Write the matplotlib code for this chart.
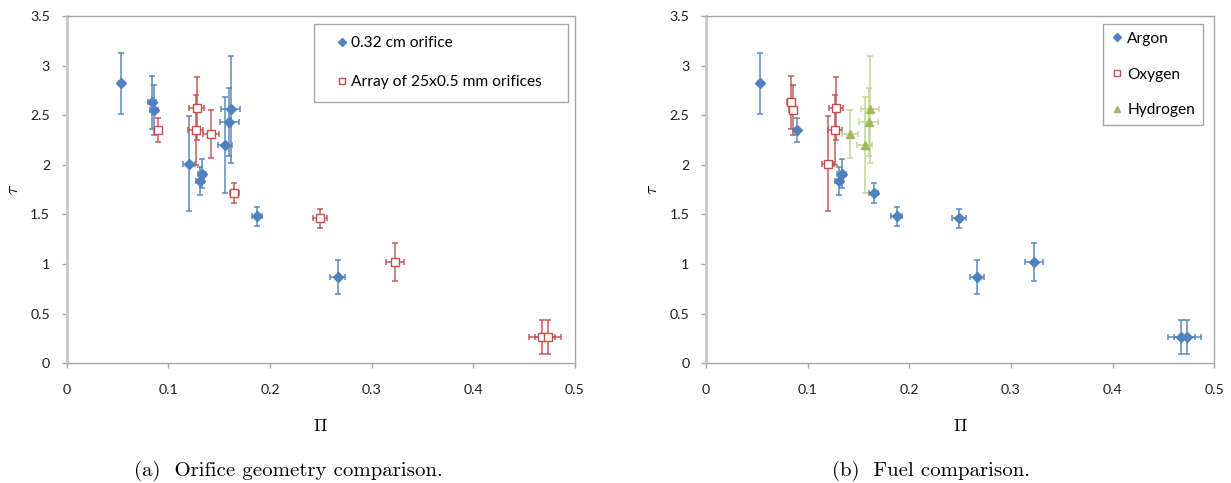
import matplotlib.pyplot as plt
from matplotlib.lines import Line2D

plt.rcParams['mathtext.fontset'] = 'cm'

# one entry per experiment: Pi, tau, error bars, orifice geometry and fuel
pi_vals = [0.053, 0.084, 0.086, 0.120, 0.131, 0.1334, 0.156, 0.160, 0.1612, 0.1875, 0.2665,
           0.090, 0.1278, 0.1268, 0.1419, 0.165, 0.249, 0.3228, 0.4677, 0.4736]
tau_vals = [2.82, 2.63, 2.55, 2.01, 1.84, 1.91, 2.20, 2.43, 2.56, 1.48, 0.87,
            2.35, 2.57, 2.35, 2.31, 1.72, 1.46, 1.02, 0.265, 0.265]
pi_err = [0.002, 0.004, 0.004, 0.006, 0.004, 0.004, 0.007, 0.0095, 0.009, 0.005, 0.007,
          0.002, 0.007, 0.007, 0.008, 0.0045, 0.007, 0.009, 0.013, 0.013]
tau_err = [0.31, 0.27, 0.25, 0.48, 0.14, 0.145, 0.48, 0.34, 0.54, 0.094, 0.17,
           0.12, 0.315, 0.35, 0.24, 0.10, 0.095, 0.19, 0.175, 0.175]
geometry = ['cm'] * 11 + ['array'] * 9
fuel = ['Ar', 'O2', 'O2', 'O2', 'Ar', 'Ar', 'H2', 'H2', 'H2', 'Ar', 'Ar',
        'Ar', 'O2', 'O2', 'H2', 'Ar', 'Ar', 'Ar', 'Ar', 'Ar']

blue, red, green = '#4F81BD', '#C0504D', '#9BBB59'

geom_series = [
    ('cm', '0.32 cm orifice', 'D', blue, True, 5.5),
    ('array', 'Array of 25x0.5 mm orifices', 's', red, False, 5.5),
]
fuel_series = [
    ('Ar', 'Argon', 'D', blue, True, 5.5),
    ('O2', 'Oxygen', 's', red, False, 5.5),
    ('H2', 'Hydrogen', '^', green, True, 6),
]

fig = plt.figure(figsize=(12.31, 4.83), dpi=100)
ax1 = fig.add_axes([0.0542, 0.2478, 0.4128, 0.7191])
ax2 = fig.add_axes([0.5735, 0.2478, 0.4128, 0.7191])


def draw(ax, key, series, legend_kw):
    handles = []
    for k, label, mk, col, filled, ms in series:
        idx = [i for i in range(len(pi_vals)) if key[i] == k]
        x = [pi_vals[i] for i in idx]
        y = [tau_vals[i] for i in idx]
        xe = [pi_err[i] for i in idx]
        ye = [tau_err[i] for i in idx]
        ebar_col = col if k != 'H2' else '#BCD48E'
        ax.errorbar(x, y, xerr=xe, yerr=ye, fmt='none', ecolor=ebar_col,
                    elinewidth=1.2, capsize=2.0, capthick=1.2, alpha=0.85, zorder=2)
        ax.plot(x, y, linestyle='none', marker=mk, markersize=ms,
                markerfacecolor=col if filled else 'white',
                markeredgecolor=col, markeredgewidth=1.0, zorder=3)
        handles.append(Line2D([], [], linestyle='none', marker=mk, markersize=4.5,
                              markerfacecolor=col if filled else 'white',
                              markeredgecolor=col, label=label))
    ax.set_xlim(0, 0.5)
    ax.set_ylim(0, 3.5)
    ax.set_xticks([0, 0.1, 0.2, 0.3, 0.4, 0.5])
    ax.set_xticklabels(['0', '0.1', '0.2', '0.3', '0.4', '0.5'])
    ax.set_yticks([0, 0.5, 1, 1.5, 2, 2.5, 3, 3.5])
    ax.set_yticklabels(['0', '0.5', '1', '1.5', '2', '2.5', '3', '3.5'])
    ax.tick_params(direction='out', length=3.6, width=1, color='#A6A6A6',
                   labelsize=10.2, labelcolor='#202020')
    ax.tick_params(axis='y', pad=8.4)
    ax.tick_params(axis='x', pad=11.5)
    for lab in ax.get_xticklabels() + ax.get_yticklabels():
        lab.set_family('Lato')
    for sp in ax.spines.values():
        sp.set_color('#A6A6A6')
        sp.set_linewidth(1)
    ax.spines['left'].set_color('#C8C8C8')
    ax.spines['left'].set_linewidth(2)
    ax.set_xlabel(r'$\Pi$', fontsize=13)
    ax.xaxis.set_label_coords(0.5, -0.155)
    ax.set_ylabel(r'$\tau$', fontsize=13, va='center')
    ax.yaxis.set_label_coords(-0.106, 0.5)
    leg = ax.legend(handles=handles, fancybox=False, framealpha=1, borderaxespad=0,
                    edgecolor='#A6A6A6', prop={'family': 'Lato', 'size': 11.2},
                    **legend_kw)
    leg.get_frame().set_linewidth(1)


draw(ax1, geometry, geom_series,
     dict(loc='upper left', bbox_to_anchor=(0.4865, 0.5, 0.4997, 0.477), mode='expand',
          handlelength=1.95, handletextpad=-0.38, labelspacing=1.6, borderpad=0.8))
draw(ax2, fuel, fuel_series,
     dict(loc='upper right', bbox_to_anchor=(0.978, 0.977), handlelength=0.8,
          handletextpad=0.24, labelspacing=1.4, borderpad=0.5))

fig.text(0.234, 0.014, '(a)  Orifice geometry comparison.', ha='center', va='baseline',
         fontsize=15, family='cmr10')
fig.text(0.7567, 0.014, '(b)  Fuel comparison.', ha='center', va='baseline',
         fontsize=15, family='cmr10')

fig.savefig('out.png', dpi=100)
